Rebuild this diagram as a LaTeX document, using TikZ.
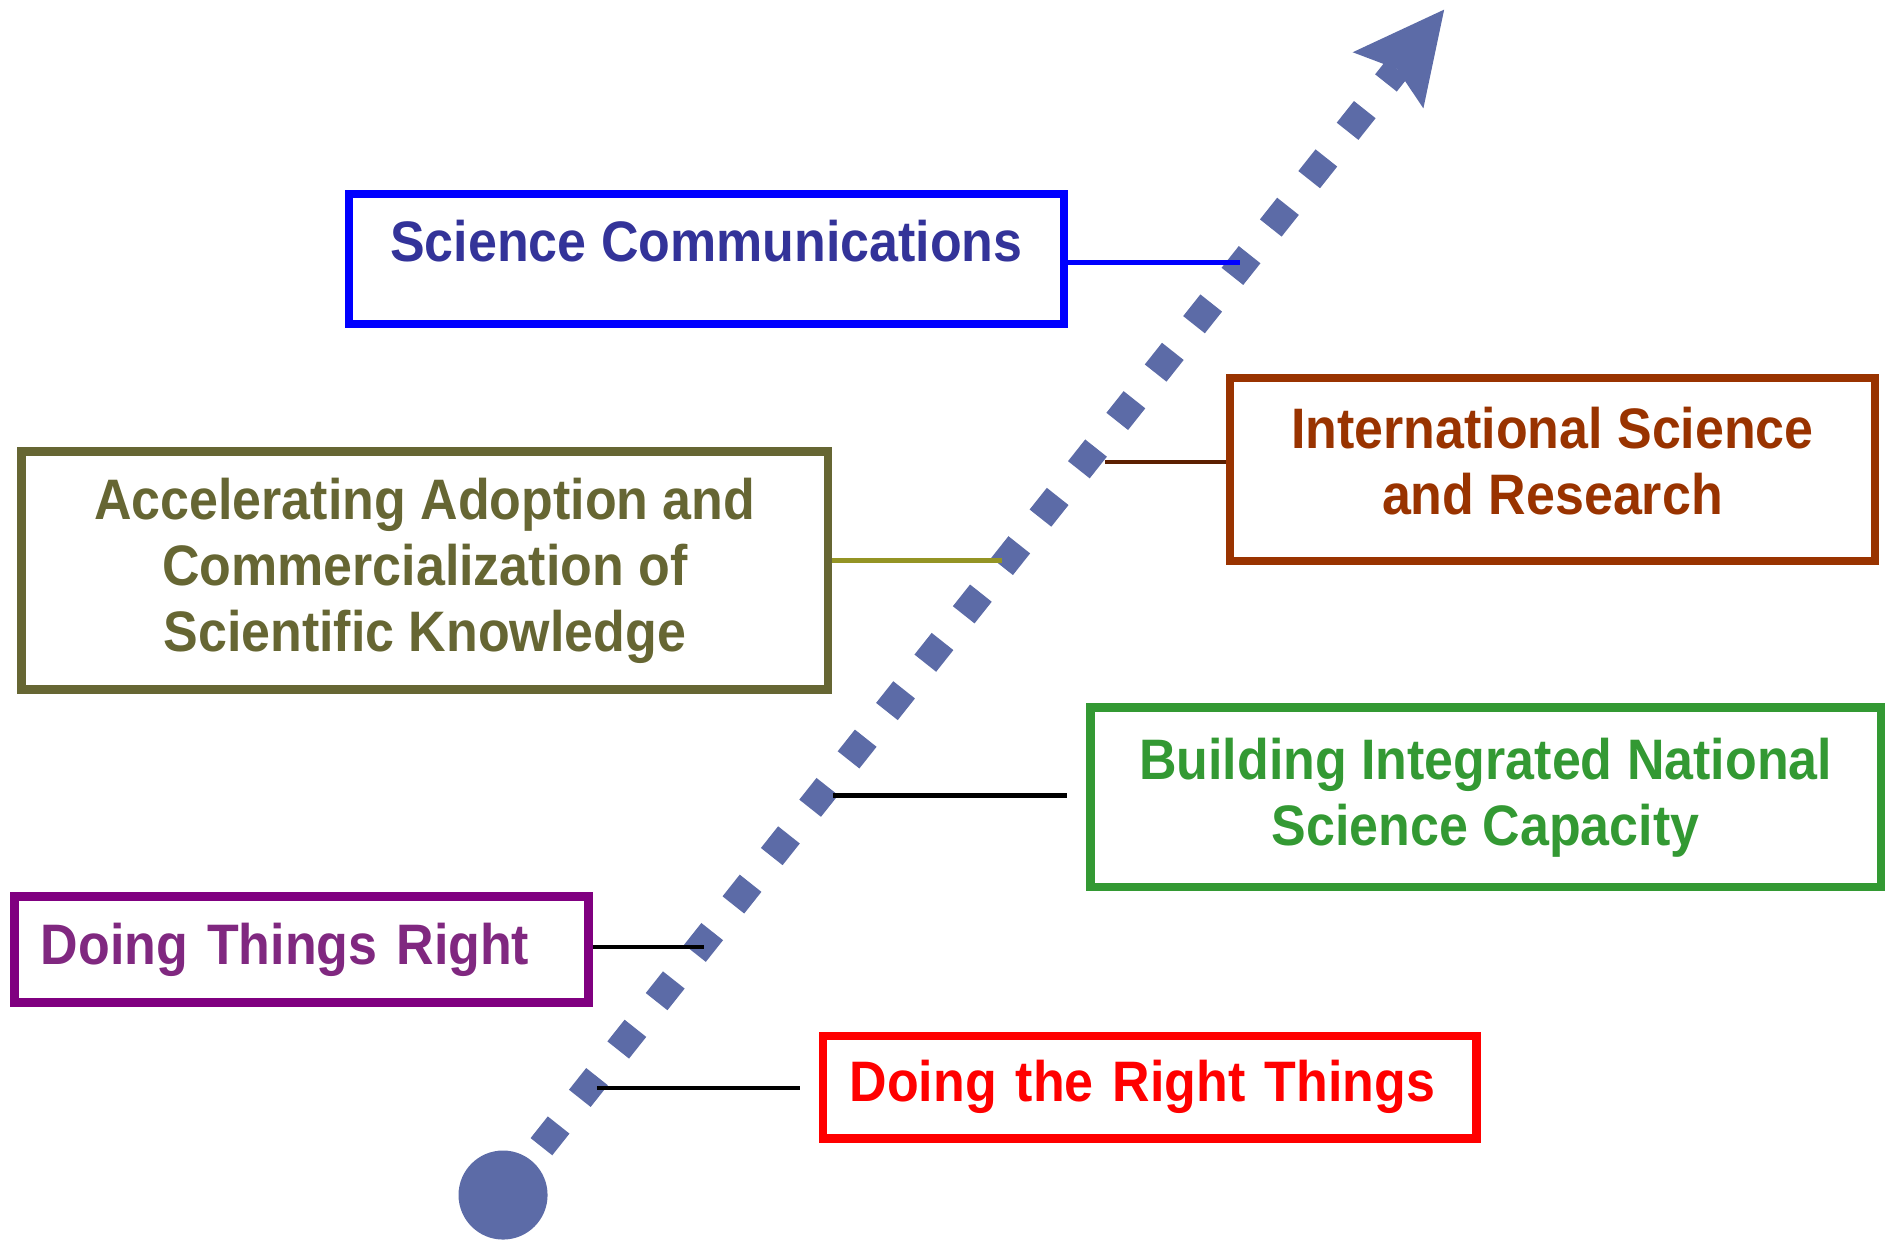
\documentclass[tikz,border=0pt]{standalone}
\usepackage{fontspec}
\setmainfont{Liberation Sans}[FakeStretch=0.91]
\usepackage{tikz}
\usetikzlibrary{positioning, arrows.meta}

\definecolor{dotblue}{RGB}{92,107,167}
\definecolor{commblue}{RGB}{51,51,153}
\definecolor{rustbrown}{RGB}{153,51,0}
\definecolor{olivebox}{RGB}{102,102,51}
\definecolor{leafgreen}{RGB}{51,153,51}
\definecolor{purplebox}{RGB}{128,0,128}
\definecolor{purpletext}{RGB}{128,40,128}

\tikzset{
  goalbox/.style={draw, line width=0.07cm, inner sep=0pt, align=center,
    font=\fontsize{13.5}{15.6}\selectfont\bfseries},
  link/.style={line width=1.1pt},
  dotline/.style={line width=0.23cm, draw=dotblue, dash pattern=on 0.23cm off 0.283cm,
    -{Stealth[length=0.75cm, width=0.75cm, inset=0.12cm, line width=0pt]}},
}

\begin{document}
\begin{tikzpicture}
    \useasboundingbox (0,0) rectangle (15.68,10.32);

    % Rising dotted arrow
    \node[circle, fill=dotblue, minimum size=0.74cm, inner sep=0pt] (start) at (4.18,0.39) {};
    \coordinate (tip) at (12.00,10.24);
    \draw[dotline] (start.center) -- (tip);

    % Boxes
    \node[goalbox, draw=blue, text=commblue, minimum width=5.94cm, minimum height=1.08cm,
      text height=0.72em, text depth=0.6em] (scicomm) at (5.87,8.17) {Science Communications};
    \node[goalbox, draw=rustbrown, text=rustbrown, minimum width=5.36cm, minimum height=1.52cm]
      (intl) at (12.90,6.42) {International Science\\and Research\rule[-0.14cm]{0pt}{0pt}};
    \node[goalbox, draw=olivebox, text=olivebox, minimum width=6.70cm, minimum height=1.98cm]
      (accel) at (3.53,5.58) {Accelerating Adoption and\\Commercialization of\\Scientific Knowledge};
    \node[goalbox, draw=leafgreen, text=leafgreen, minimum width=6.57cm, minimum height=1.49cm]
      (build) at (12.345,3.695) {Building Integrated National\\Science Capacity};
    \node[goalbox, draw=purplebox, text=purpletext, text width=4.33cm, inner xsep=0.22cm,
      align=left, minimum height=0.88cm] (rightway) at (2.505,2.43) {Doing Things Right};
    \node[goalbox, draw=red, text=red, text width=4.99cm, inner xsep=0.22cm,
      align=left, minimum height=0.85cm] (rightthings) at (9.555,1.285) {Doing the Right Things};

    % Points on the arrow
    \coordinate (k1) at (10.30,8.14);
    \coordinate (k2) at (9.18,6.48);
    \coordinate (k3) at (8.33,5.66);
    \coordinate (k4) at (6.92,3.71);
    \coordinate (k5) at (5.85,2.45);
    \coordinate (k6) at (4.96,1.28);

    % Connectors
    \draw[link, blue] (scicomm.east |- k1) -- (k1);
    \draw[link, rustbrown!60!black] (k2) -- (intl.west |- k2);
    \draw[link, olivebox!70!yellow] (accel.east |- k3) -- (k3);
    \draw[link, shorten >=0.16cm] (k4) -- (build.west |- k4);
    \draw[link] (rightway.east |- k5) -- (k5);
    \draw[link, shorten >=0.16cm] (k6) -- (rightthings.west |- k6);

\end{tikzpicture}
\end{document}
